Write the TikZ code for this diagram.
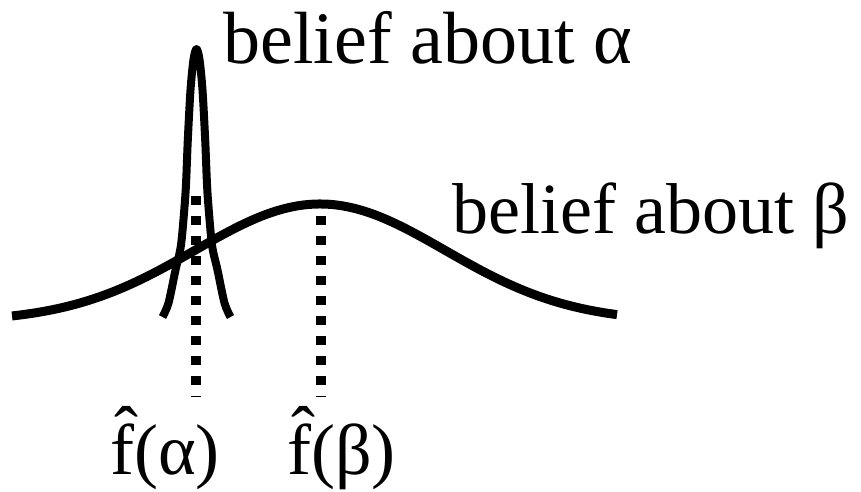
\documentclass[tikz,border=0pt]{standalone}
\usepackage{fontspec}
\setmainfont{Liberation Serif}
\begin{document}
\begin{tikzpicture}[x=1pt,y=-1pt,
  curve/.style={line width=9pt, line cap=butt, line join=round},
  narrow/.style={line width=8pt, line cap=butt, line join=round},
  dots/.style={line width=9.5pt, dash pattern=on 9.3pt off 10.7pt},
  lbl/.style={anchor=base west, inner sep=0pt, font=\fontsize{72}{86}\selectfont}]
\useasboundingbox (0,0) rectangle (861,491);
% wide belief (beta)
\draw[curve, domain=12:617, samples=200, smooth]
  plot (\x, {321.6-117.6*exp(-0.5*((\x-320)/125)^2)});
% narrow belief (alpha)
\draw[narrow] plot[smooth, tension=0.5] coordinates {
  (162.5,317) (168.5,303) (175.5,270) (181,245) (184.8,203) (186.2,180)
  (187.8,140) (190.5,90) (193.5,59.5) (196.5,49) (199.5,59.5) (202.5,90)
  (205.2,140) (206.8,180) (208.2,203) (212,245) (217.5,270) (224.5,303)
  (230.5,317)};
% dotted lines
\coordinate (atop) at (196,196);
\coordinate (abot) at (196,397);
\coordinate (btop) at (321,216);
\coordinate (bbot) at (321,397);
\draw[dots] (atop) -- (abot);
\draw[dots] (btop) -- (bbot);
% labels
\node[lbl, font=\fontsize{74}{88}\selectfont] (la) at (223,63) {belief about α};
\node[lbl] (lb) at (452,233) {belief about β};
\node[lbl] (fa) at (110,474) {\^{f}(α)};
\node[lbl] (fb) at (287,474) {\^{f}(β)};
\end{tikzpicture}
\end{document}
